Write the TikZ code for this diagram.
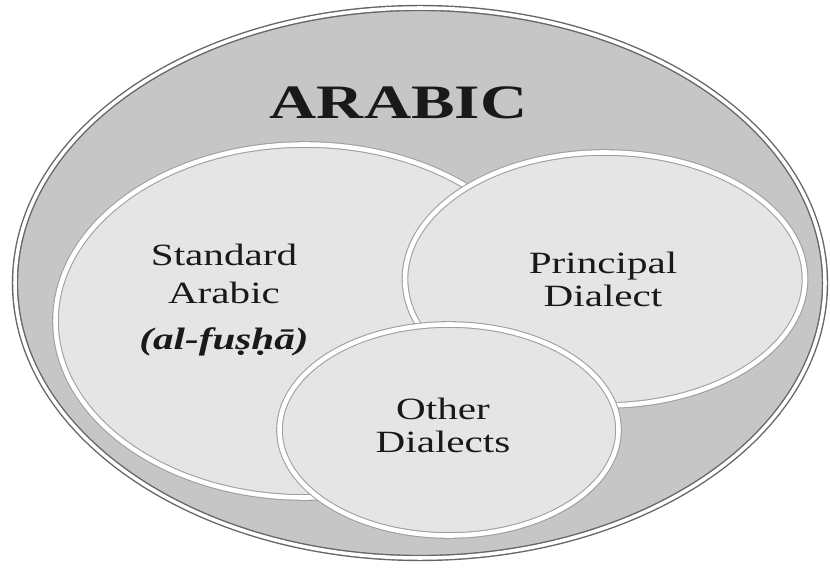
\documentclass[tikz,border=0pt]{standalone}
\usepackage{fontspec}
\setmainfont{Liberation Serif}[BoldItalicFont={Liberation Serif Bold Italic}]
\usepackage{graphicx}
\usetikzlibrary{shapes.geometric,shadows}

\definecolor{ringgray}{HTML}{C6C6C6}
\definecolor{lobegray}{HTML}{E5E5E5}

\tikzset{
  outerring/.style={ellipse, draw=black!60, double=white, double distance=2pt, line width=0.8pt, fill=ringgray},
  lobe/.style={ellipse, draw=gray!75, double=white, double distance=2.6pt, line width=0.6pt, fill=lobegray,
    drop shadow={shadow xshift=1.2pt, shadow yshift=-1.4pt, opacity=0.35, fill=black!70}},
  lobetext/.style={inner sep=0pt, anchor=north, text=black!90}
}

\begin{document}
\begin{tikzpicture}
\path[use as bounding box, fill=white] (0,0) rectangle (16.6,-11.38);
\node[outerring, minimum width=16.2cm, minimum height=11.0cm] (arabic) at (8.40,-5.66) {};
\node[lobe, minimum width=9.98cm, minimum height=7.06cm] (standard) at (6.10,-6.42) {};
\node[lobe, minimum width=8.0cm, minimum height=5.06cm] (principal) at (12.10,-5.58) {};
\node[lobe, minimum width=6.78cm, minimum height=4.22cm] (other) at (8.98,-8.60) {};
\node[inner sep=0pt, anchor=base, text=black!90] (title) at (7.97,-2.38) {\scalebox{1.36}[1]{\fontsize{27.3}{30}\selectfont\bfseries ARABIC}};
\node[lobetext] (textS) at (4.48,-4.768) {\scalebox{1.33}[1]{\fontsize{17.6}{21.6}\selectfont\begin{tabular}{c}Standard\\ Arabic\\[4.6pt] \bfseries\itshape (al-fuṣḥā)\end{tabular}}};
\node[lobetext] (textP) at (12.06,-4.998) {\scalebox{1.33}[1]{\fontsize{17.6}{18.8}\selectfont\begin{tabular}{c}Principal\\ Dialect\end{tabular}}};
\node[lobetext] (textO) at (8.86,-7.918) {\scalebox{1.33}[1]{\fontsize{17.6}{18.8}\selectfont\begin{tabular}{c}Other\\ Dialects\end{tabular}}};
\end{tikzpicture}
\end{document}
